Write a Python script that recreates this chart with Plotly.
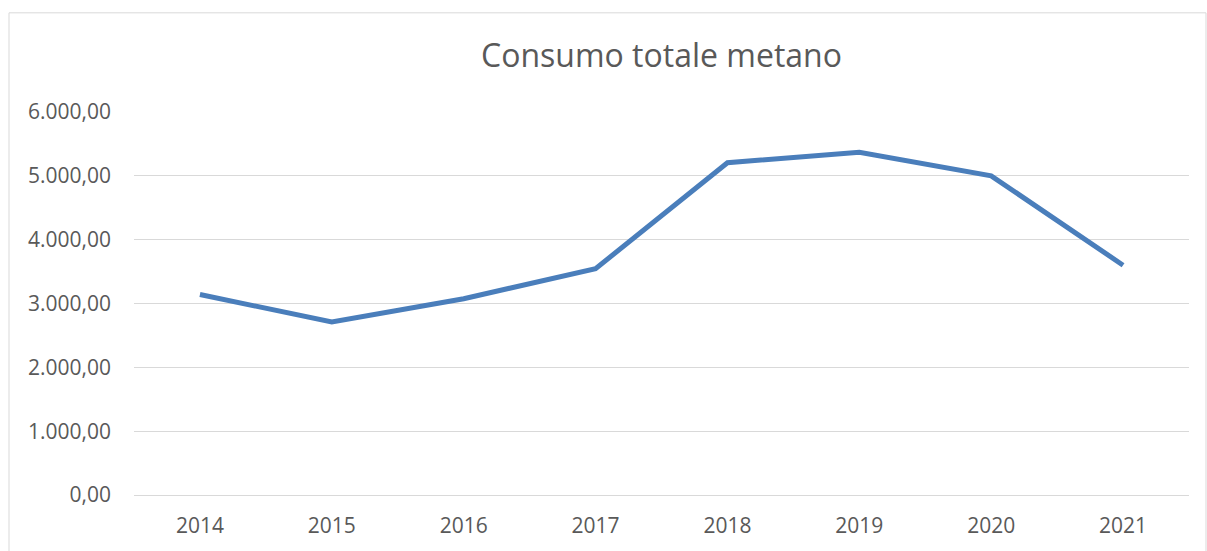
import plotly.graph_objects as go

# Consumo totale metano per anno
anni = ["2014", "2015", "2016", "2017", "2018", "2019", "2020", "2021"]
consumo = [3140, 2710, 3075, 3545, 5205, 5370, 5000, 3600]

W, H = 1207, 551
left, right, top, bottom = 134, 18, 112, 49
pw = W - left - right
ph = H - top - bottom

fig = go.Figure()

fig.add_trace(
    go.Scatter(
        x=anni,
        y=consumo,
        mode="lines",
        line=dict(color="#4a7ebb", width=5),
        showlegend=False,
    )
)

fig.update_layout(
    width=W,
    height=H,
    margin=dict(l=left, r=right, t=top, b=bottom),
    plot_bgcolor="white",
    paper_bgcolor="white",
    separators=",.",
    font=dict(family="Open Sans", color="#595959"),
    title=dict(
        text="Consumo totale metano",
        x=0.5,
        xref="paper",
        y=1 - 56 / H,
        yanchor="middle",
        font=dict(size=32, color="#595959"),
    ),
    xaxis=dict(
        type="category",
        showgrid=False,
        showline=False,
        ticks="",
        ticklabelstandoff=16,
        tickfont=dict(size=21),
        range=[-0.5, 7.5],
    ),
    yaxis=dict(
        range=[0, 6000],
        dtick=1000,
        tickformat=",.2f",
        showgrid=True,
        gridcolor="#d9d9d9",
        gridwidth=1,
        zeroline=True,
        zerolinecolor="#d9d9d9",
        zerolinewidth=1,
        showline=False,
        ticks="",
        ticklabelstandoff=22,
        tickfont=dict(size=21),
    ),
)

# Bordo del grafico
fig.add_shape(
    type="rect",
    xref="paper",
    yref="paper",
    x0=(9 - left) / pw,
    x1=(1206 - left) / pw,
    y0=(H - bottom - 560) / ph,
    y1=(H - bottom - 11) / ph,
    line=dict(color="#d9d9d9", width=1),
    layer="below",
)

fig.write_html(
    "out.html",
    config={"displayModeBar": False},
    post_script="document.body.style.margin='0';",
)
